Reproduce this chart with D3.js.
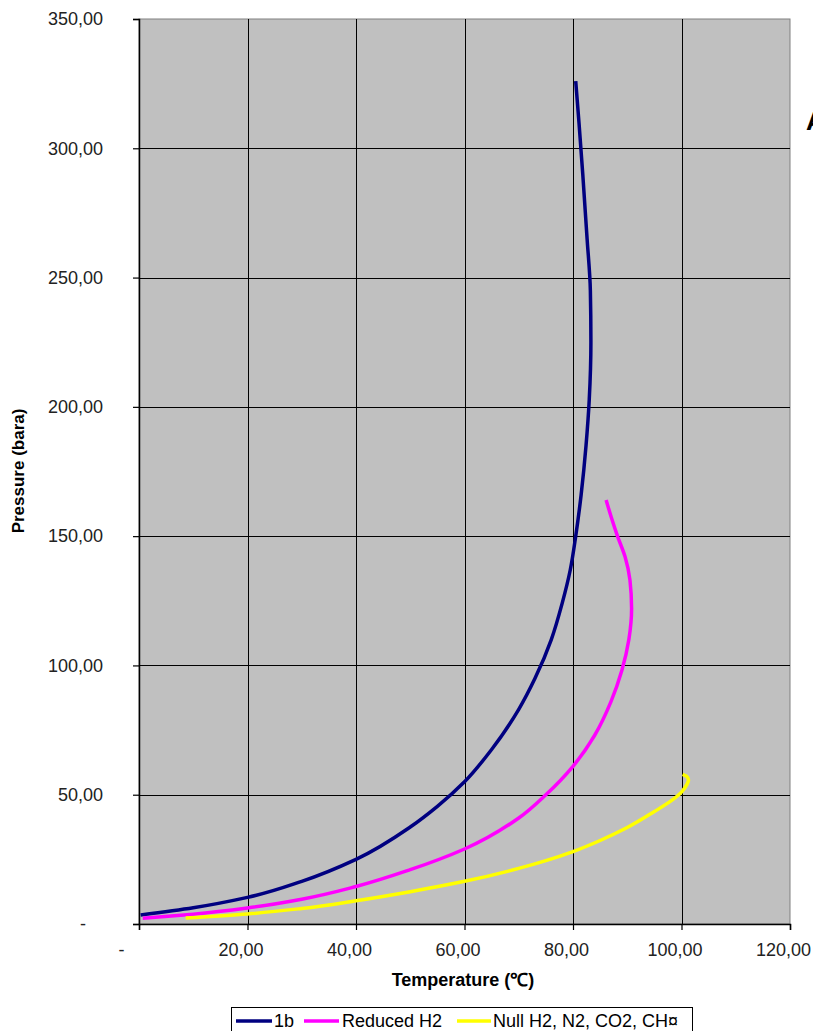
<!DOCTYPE html>
<html>
<head>
<meta charset="utf-8">
<script src="https://cdn.jsdelivr.net/npm/d3@7"></script>
<style>
  html, body { margin: 0; padding: 0; background: #fff; }
  svg { display: block; }
</style>
</head>
<body>
<svg id="chart" width="813" height="1031"></svg>
<script>
// Phase envelope curves: temperature (°C) vs pressure (bara)
const seriesNames = ["1b", "Reduced H2", "Null H2, N2, CO2, CH\u00A4"];
const seriesColors = ["#000080", "#ff00ff", "#ffff00"];

const temp1b = [0.3, 10, 20, 30, 40, 50, 55, 60, 65, 70, 73, 76, 78, 79.5, 80.5, 81.5, 82.4, 83, 83.3, 83.2, 82.6, 81.8, 81.1, 80.5];
const pres1b = [3.5, 6.3, 10.3, 16.5, 25, 37.5, 45.5, 55, 67.5, 83, 95, 110, 124, 137, 150, 166, 185, 203, 225, 245, 265, 290, 310, 326];

const tempRed = [0.7, 10, 20, 30, 40, 50, 60, 70, 75, 80, 84, 87, 89, 90.3, 90.8, 90.5, 89.6, 88.2, 87.1, 86.1];
const presRed = [2.2, 3.8, 6.2, 9.6, 14.5, 21, 29, 41, 50, 61, 73, 86, 98, 110, 122, 133, 142, 150, 157, 164];

const tempNull = [8.6, 20, 30, 40, 50, 60, 70, 75, 80, 85, 90, 95, 98, 100, 101, 101.3, 100.9, 100.2];
const presNull = [2.3, 3.9, 6, 9, 12.5, 16.5, 21.5, 24.5, 28, 32.3, 37.3, 43.5, 47.5, 51, 54, 55.7, 57.2, 57.9];

const xTicks = [0, 20, 40, 60, 80, 100, 120];
const yTicks = [0, 50, 100, 150, 200, 250, 300, 350];

const series = [
  { name: seriesNames[0], color: seriesColors[0], t: temp1b, p: pres1b },
  { name: seriesNames[1], color: seriesColors[1], t: tempRed, p: presRed },
  { name: seriesNames[2], color: seriesColors[2], t: tempNull, p: presNull }
];

const svg = d3.select("#chart");
const plot = { left: 139, right: 790, top: 19, bottom: 924 };
const font = "Liberation Sans, Arial, sans-serif";

const x = d3.scaleLinear().domain([0, 120]).range([plot.left, plot.right]);
const y = d3.scaleLinear().domain([0, 350]).range([plot.bottom, plot.top]);

// Number format with comma decimal, zero shown as a dash
const fmt = v => v === 0 ? "-" : d3.format(".2f")(v).replace(".", ",");

// Plot background
svg.append("rect")
  .attr("x", plot.left).attr("y", plot.top)
  .attr("width", plot.right - plot.left).attr("height", plot.bottom - plot.top)
  .attr("fill", "#c0c0c0")
  .attr("stroke", "#808080").attr("stroke-width", 1);

// Gridlines
const grid = svg.append("g").attr("shape-rendering", "crispEdges");
grid.selectAll("line.gx").data(xTicks.filter(d => d > 0 && d < 120)).join("line")
  .attr("x1", d => Math.round(x(d)) + 0.5).attr("x2", d => Math.round(x(d)) + 0.5)
  .attr("y1", plot.top).attr("y2", plot.bottom)
  .attr("stroke", "#000").attr("stroke-width", 1);
grid.selectAll("line.gy").data(yTicks.filter(d => d > 0 && d < 350)).join("line")
  .attr("y1", d => Math.round(y(d)) + 0.5).attr("y2", d => Math.round(y(d)) + 0.5)
  .attr("x1", plot.left).attr("x2", plot.right)
  .attr("stroke", "#000").attr("stroke-width", 1);

// Axes
const xAxis = svg.append("g")
  .attr("transform", `translate(0,${plot.bottom})`)
  .call(d3.axisBottom(x).tickValues(xTicks).tickFormat(fmt).tickSize(6).tickPadding(13));
const yAxis = svg.append("g")
  .attr("transform", `translate(${plot.left},0)`)
  .call(d3.axisLeft(y).tickValues(yTicks).tickFormat(fmt).tickSize(6).tickPadding(30));

[xAxis, yAxis].forEach(a => {
  a.select(".domain").attr("stroke", "#000").attr("stroke-width", 1.5);
  a.selectAll(".tick line").attr("stroke", "#000").attr("stroke-width", 1.2);
  a.selectAll(".tick text")
    .attr("fill", "#222")
    .style("font-family", font)
    .style("font-size", "18px");
});
xAxis.selectAll(".tick text").attr("dx", -7);
// The zero labels sit away from the axis corner
xAxis.selectAll(".tick").filter(d => d === 0).select("text").attr("x", -11);
yAxis.selectAll(".tick").filter(d => d === 0).select("text").attr("x", -53);

// Curves (pressure rises monotonically along each envelope)
const line = d3.line()
  .x(d => x(d[0])).y(d => y(d[1]))
  .curve(d3.curveMonotoneY);

svg.append("g").selectAll("path").data(series).join("path")
  .attr("d", s => line(d3.zip(s.t, s.p)))
  .attr("fill", "none")
  .attr("stroke", s => s.color)
  .attr("stroke-width", 3.5)
  .attr("stroke-linejoin", "round")
  .attr("stroke-linecap", "butt");

// Axis titles
svg.append("text")
  .attr("x", 463).attr("y", 986)
  .attr("text-anchor", "middle")
  .style("font-family", font)
  .style("font-weight", "bold").style("font-size", "18px")
  .attr("fill", "#000")
  .text("Temperature (\u2103)");

svg.append("text")
  .attr("transform", "translate(24,471) rotate(-90)")
  .attr("text-anchor", "middle")
  .style("font-family", font)
  .style("font-weight", "bold").style("font-size", "17px")
  .attr("fill", "#000")
  .text("Pressure (bara)");

// Partly visible heading letter at the right edge
svg.append("text")
  .attr("x", 806).attr("y", 130)
  .style("font-family", font)
  .style("font-weight", "bold").style("font-size", "26px")
  .attr("fill", "#000")
  .text("A");

// Legend
const legend = svg.append("g");
legend.append("rect")
  .attr("x", 231.5).attr("y", 1007.5).attr("width", 461).attr("height", 30)
  .attr("fill", "#fff").attr("stroke", "#000").attr("stroke-width", 1);

const legendItems = [
  { x0: 236, x1: 272, tx: 274 },
  { x0: 304, x1: 339, tx: 342 },
  { x0: 457, x1: 491, tx: 493 }
];
legendItems.forEach((it, i) => {
  legend.append("line")
    .attr("x1", it.x0).attr("x2", it.x1).attr("y1", 1021).attr("y2", 1021)
    .attr("stroke", seriesColors[i]).attr("stroke-width", 3.5);
  legend.append("text")
    .attr("x", it.tx).attr("y", 1027)
    .style("font-family", font)
    .style("font-size", "18px")
    .attr("fill", "#000")
    .text(seriesNames[i]);
});
</script>
</body>
</html>
